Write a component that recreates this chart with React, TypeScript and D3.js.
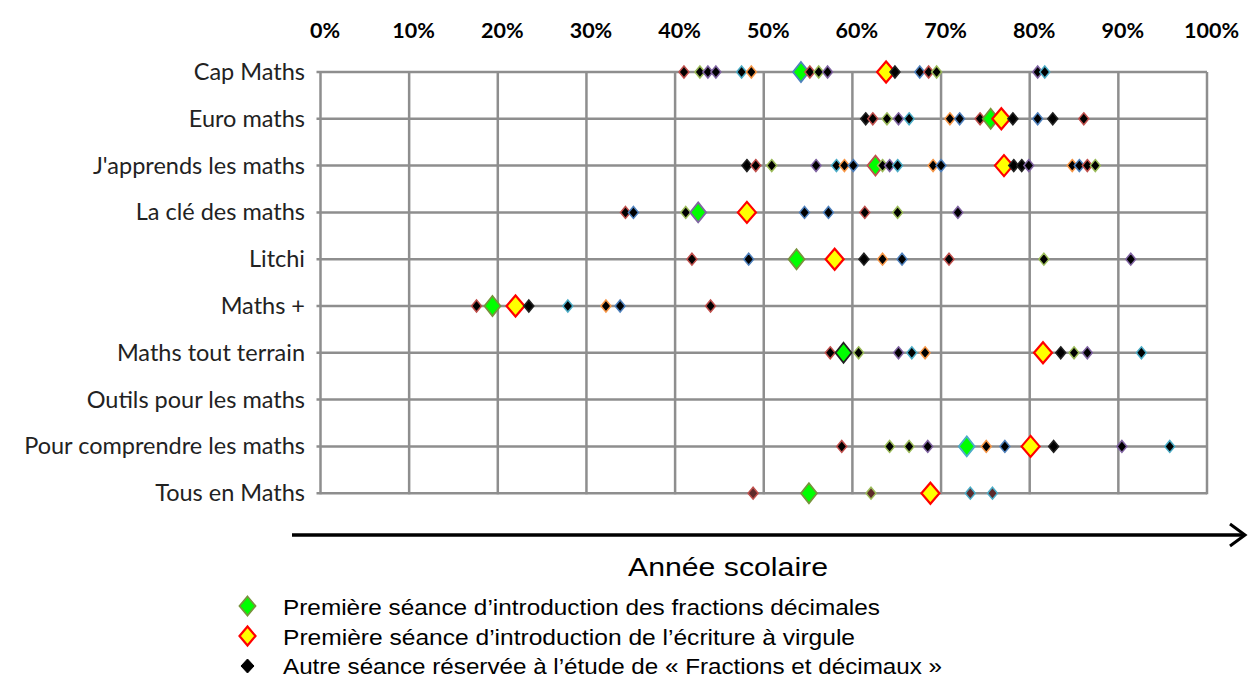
import React from "react";
import * as d3 from "d3";

const categories = [
  "Cap Maths",
  "Euro maths",
  "J'apprends les maths",
  "La clé des maths",
  "Litchi",
  "Maths +",
  "Maths tout terrain",
  "Outils pour les maths",
  "Pour comprendre les maths",
  "Tous en Maths",
];

const tickValues = [0, 10, 20, 30, 40, 50, 60, 70, 80, 90, 100];

// Première séance d'introduction des fractions décimales (green)
const firstFractions: (number | null)[] = [54.2, 75.6, 62.6, 42.6, 53.7, 19.4, 59.0, null, 72.9, 55.1];
const firstFractionsOutline = ["b", "G", "r", "p", "G", "G", "k", "", "t", "G"];

// Première séance d'introduction de l'écriture à virgule (yellow)
const firstComma: (number | null)[] = [63.8, 76.8, 77.1, 48.1, 58.0, 22.0, 81.5, null, 80.1, 68.8];

// Autre séance (black)
const otherSessions: number[][] = [
  [41.0, 42.8, 43.7, 44.6, 47.5, 48.6, 55.2, 56.2, 57.2, 64.8, 67.6, 68.6, 69.5, 80.9, 81.7],
  [61.5, 62.3, 63.9, 65.2, 66.4, 71.0, 72.1, 74.4, 78.1, 80.9, 82.6, 86.1],
  [48.1, 49.1, 50.9, 55.9, 58.2, 59.1, 60.1, 63.4, 64.2, 65.1, 69.1, 70.0, 78.2, 79.1, 79.9, 84.8, 85.6, 86.5, 87.4],
  [34.4, 35.3, 41.2, 54.6, 57.3, 61.4, 65.1, 71.9],
  [41.9, 48.3, 61.3, 63.4, 65.6, 70.9, 81.6, 91.4],
  [17.6, 23.5, 27.9, 32.2, 33.8, 44.0],
  [57.5, 60.7, 65.2, 66.7, 68.2, 83.5, 85.0, 86.5, 92.6],
  [],
  [58.8, 64.2, 66.4, 68.5, 75.1, 77.2, 82.7, 90.4, 95.8],
  [48.8, 62.1, 73.3, 75.8],
];
const otherOutlines: string[][] = [
  ["r", "g", "p", "p", "t", "o", "r", "g", "p", "k", "b", "r", "g", "p", "t"],
  ["k", "r", "g", "p", "t", "o", "b", "r", "k", "b", "k", "r"],
  ["k", "r", "g", "p", "t", "o", "b", "g", "p", "t", "o", "b", "k", "k", "p", "o", "b", "r", "g"],
  ["r", "b", "g", "b", "b", "r", "g", "p"],
  ["r", "b", "k", "o", "b", "r", "g", "p"],
  ["r", "k", "t", "o", "b", "r"],
  ["r", "g", "p", "t", "o", "k", "g", "p", "t"],
  [],
  ["r", "g", "g", "p", "o", "b", "k", "p", "t"],
  ["r", "g", "t", "t"],
];
const otherFill = ["#000", "#000", "#000", "#000", "#000", "#000", "#000", "#000", "#000", "#5e2a2a"];

const outlineColors: Record<string, string> = {
  b: "#4F81BD",
  r: "#C0504D",
  g: "#9BBB59",
  G: "#77933C",
  p: "#8064A2",
  t: "#4BACC6",
  o: "#F79646",
  k: "#222",
};

const legendItems = [
  "Première séance d’introduction des fractions décimales",
  "Première séance d’introduction de l’écriture à virgule",
  "Autre séance réservée à l’étude de « Fractions et décimaux »",
];
const legendWidths = [597, 572, 659];

type Mark = { x: number; y: number; kind: "green" | "yellow" | "other"; stroke: string; fill: string };

const diamond = (cx: number, cy: number, hw: number, hh: number) =>
  `M${cx},${cy - hh}L${cx + hw},${cy}L${cx},${cy + hh}L${cx - hw},${cy}Z`;

export default function App() {
  const width = 1248;
  const height = 677;
  const x = d3.scaleLinear().domain([0, 100]).range([320.5, 1207]);
  const y = d3.scalePoint<string>().domain(categories).range([72, 493.2]);
  const top = y(categories[0])!;
  const bottom = y(categories[categories.length - 1])!;

  const marks: Mark[] = [];
  categories.forEach((c, i) => {
    const cy = y(c)!;
    otherSessions[i].forEach((v, j) =>
      marks.push({ x: x(v), y: cy, kind: "other", stroke: outlineColors[otherOutlines[i][j]] || "#000", fill: otherFill[i] })
    );
    const g = firstFractions[i];
    if (g != null) marks.push({ x: x(g), y: cy, kind: "green", stroke: outlineColors[firstFractionsOutline[i]], fill: "#00FF00" });
    const yv = firstComma[i];
    if (yv != null) marks.push({ x: x(yv), y: cy, kind: "yellow", stroke: "#FF0000", fill: "#FFFF00" });
  });
  marks.sort((a, b) => a.x - b.x);

  const gridColor = "#8e8e8e";

  return (
    <svg width={width} height={height} style={{ position: "absolute", left: 0, top: 0, background: "#fff" }}>
      <rect x={0} y={0} width={width} height={height} fill="#fff" />
      {/* top tick labels */}
      {tickValues.map((t) => (
        <text
          key={"t" + t}
          x={x(t) + 4.5}
          y={30}
          textAnchor="middle"
          dominantBaseline="central"
          fontFamily="Lato, 'Open Sans', sans-serif"
          fontWeight="bold"
          fontSize={21.5}
          fill="#000"
        >
          {t}%
        </text>
      ))}
      {/* vertical grid */}
      {tickValues.map((t) => (
        <line key={"v" + t} x1={x(t)} x2={x(t)} y1={top} y2={bottom + 1} stroke={gridColor} strokeWidth={2.5} />
      ))}
      {/* horizontal grid + ticks */}
      {categories.map((c) => (
        <g key={"h" + c}>
          <line x1={x(0) - 4} x2={x(100)} y1={y(c)!} y2={y(c)!} stroke={gridColor} strokeWidth={2.5} />
        </g>
      ))}
      {/* category labels */}
      {categories.map((c) => (
        <text
          key={"l" + c}
          x={305}
          y={y(c)! - 1}
          textAnchor="end"
          dominantBaseline="central"
          fontFamily="Lato, 'Open Sans', sans-serif"
          fontSize={23.5}
          fill="#222"
        >
          {c}
        </text>
      ))}
      {/* markers */}
      {marks.map((m, i) =>
        m.kind === "other" ? (
          <path key={"m" + i} d={diamond(m.x, m.y, 5, 6)} fill={m.fill} stroke={m.stroke} strokeWidth={1.5} />
        ) : m.kind === "green" ? (
          <path key={"m" + i} d={diamond(m.x, m.y, 8, 10)} fill={m.fill} stroke={m.stroke} strokeWidth={1.8} />
        ) : (
          <path key={"m" + i} d={diamond(m.x, m.y, 9, 10.5)} fill={m.fill} stroke={m.stroke} strokeWidth={2.2} />
        )
      )}
      {/* arrow */}
      <line x1={292} x2={1244} y1={535} y2={535} stroke="#000" strokeWidth={3.5} />
      <polyline points="1230,524 1245,535 1230,546" fill="none" stroke="#000" strokeWidth={3} />
      <text
        x={728}
        y={567}
        textAnchor="middle"
        dominantBaseline="central"
        fontFamily="'Liberation Sans', Arial, sans-serif"
        fontSize={25}
        textLength={200}
        lengthAdjust="spacingAndGlyphs"
        fill="#000"
      >
        Année scolaire
      </text>
      {/* legend */}
      {legendItems.map((txt, i) => {
        const ly = [606, 636, 665][i];
        return (
          <g key={"lg" + i}>
            {i === 0 && <path d={diamond(247.5, ly, 8, 9.5)} fill="#00FF00" stroke="#77933C" strokeWidth={1.8} />}
            {i === 1 && <path d={diamond(247.5, ly, 8, 9.5)} fill="#FFFF00" stroke="#FF0000" strokeWidth={2.2} />}
            {i === 2 && <path d={diamond(247.5, ly + 1, 6.5, 7)} fill="#000" stroke="#000" strokeWidth={1} />}
            <text
              x={283}
              y={ly + 1}
              dominantBaseline="central"
              fontFamily="'Liberation Sans', Arial, sans-serif"
              fontSize={22.5}
              textLength={legendWidths[i]}
              lengthAdjust="spacingAndGlyphs"
              fill="#000"
            >
              {txt}
            </text>
          </g>
        );
      })}
    </svg>
  );
}
